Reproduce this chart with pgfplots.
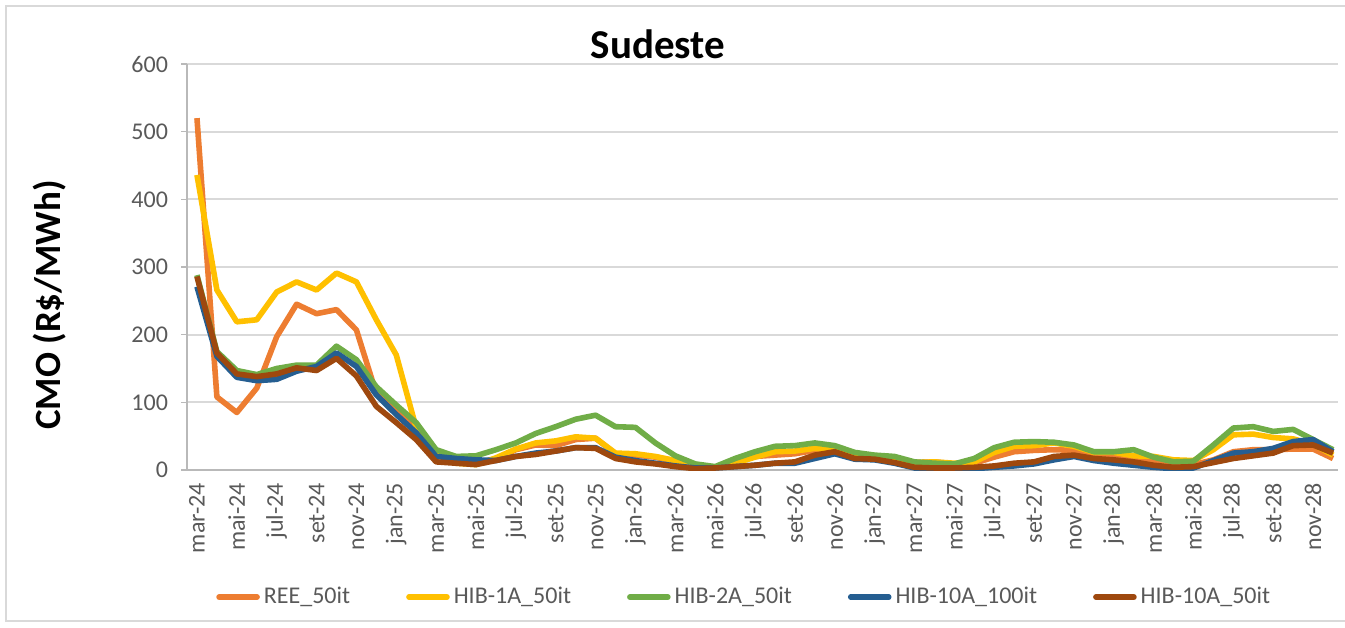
\documentclass[border=0pt]{standalone}
\usepackage{pgfplots}
\pgfplotsset{compat=1.18}
\usepackage{pgfplotstable}
\usepackage{fontspec}
\setmainfont{Carlito}

\definecolor{cree}{HTML}{ED7D31}
\definecolor{chiba}{HTML}{FFC000}
\definecolor{chibb}{HTML}{70AD47}
\definecolor{chibc}{HTML}{255E91}
\definecolor{chibd}{HTML}{9E480E}
\definecolor{txtgray}{HTML}{595959}
\definecolor{gridgray}{HTML}{D9D9D9}

% CMO Sudeste, monthly, mar-24 (0) to dez-28 (57)
\pgfplotstableread{
idx ree  hiba hibb hibc hibd
0   520  436  288  271  286
1   108  266  175  168  173
2   85   219  147  137  142
3   121  222  141  132  138
4   197  263  150  134  142
5   245  278  155  146  151
6   231  266  155  153  147
7   237  291  183  173  165
8   207  278  163  153  139
9   113  222  123  111  94
10  88   170  96   82   70
11  59   62   70   55   45
12  28   27   30   20   12
13  15   10   20   17   10
14  10   8    21   15   8
15  16   18   30   14   14
16  30   31   40   20   20
17  37   40   54   25   23
18  36   43   64   28   28
19  45   49   75   33   33
20  47   47   81   33   32
21  24   25   64   19   17
22  22   24   63   14   12
23  19   20   40   10   9
24  12   14   21   6    5
25  5    6    9    3    2
26  4    4    5    3    3
27  11   10   17   5    5
28  20   19   27   7    7
29  22   27   35   10   10
30  24   28   36   10   12
31  29   32   40   17   22
32  29   29   36   24   27
33  20   22   26   16   17
34  19   19   22   15   16
35  15   16   20   10   11
36  11   11   12   3    4
37  12   12   10   2    3
38  9    10   9    2    3
39  10   12   17   2    4
40  19   26   33   4    6
41  27   35   41   6    10
42  29   36   42   9    12
43  30   40   41   15   20
44  29   35   37   20   22
45  22   26   27   14   17
46  20   26   27   10   15
47  19   21   30   7    12
48  14   20   19   4    7
49  10   15   12   2    4
50  8    14   13   3    5
51  15   30   37   14   11
52  27   52   62   25   17
53  30   53   64   27   21
54  30   48   57   32   25
55  31   46   60   42   36
56  31   38   45   45   37
57  17   22   30   27   25
}\cmo

\begin{document}
\begin{tikzpicture}
\useasboundingbox (0,0) rectangle (672.5pt,313.5pt);
\draw[gridgray, line width=1pt] (672.5pt,310.5pt) -- (3pt,310.5pt) -- (3pt,3pt) -- (672.5pt,3pt);

\node[font=\fontsize{20.5}{24}\selectfont\bfseries] at (329pt,291.5pt) {Sudeste};
\node[font=\fontsize{18.5}{22}\selectfont\bfseries, rotate=90] at (25pt,161pt) {CMO (R\$/MWh)};

\begin{axis}[
    at={(93.5pt,78.5pt)}, anchor=south west,
    scale only axis, width=575.5pt, height=203pt,
    xmin=-0.5, xmax=57.25, ymin=0, ymax=600,
    ytick={0,100,...,600},
    xtick={0,2,...,56},
    xticklabels={mar-24,mai-24,jul-24,set-24,nov-24,jan-25,mar-25,mai-25,jul-25,set-25,nov-25,jan-26,mar-26,mai-26,jul-26,set-26,nov-26,jan-27,mar-27,mai-27,jul-27,set-27,nov-27,jan-28,mar-28,mai-28,jul-28,set-28,nov-28},
    x tick label style={rotate=90, anchor=east, font=\fontsize{12}{14}\selectfont, text=txtgray},
    y tick label style={font=\fontsize{12}{14}\selectfont, text=txtgray, xshift=-3pt},
    /pgf/number format/assume math mode=true,
    axis lines*=left,
    axis line style={draw=gray!55, line width=0.8pt},
    tick align=outside,
    major tick length=3pt,
    x tick style={draw=none},
    y tick style={draw=gray!55, line width=0.8pt},
    ymajorgrids, grid style={gridgray, line width=1pt},
    legend columns=5,
    legend style={at={(0.485,-0.313)}, anchor=center, draw=none, fill=none,
      font=\fontsize{12}{14}\selectfont, text=txtgray,
      /tikz/every even column/.append style={column sep=26pt}},
    legend image code/.code={\draw[#1, line cap=round] (0pt,0pt) -- (19pt,0pt);},
    every axis plot/.append style={line width=2.8pt, line join=round},
]
\addplot[cree, mark=none] table[x=idx, y=ree] {\cmo};
\addlegendentry{REE\_50it}
\addplot[chiba, mark=none] table[x=idx, y=hiba] {\cmo};
\addlegendentry{HIB-1A\_50it}
\addplot[chibb, mark=none] table[x=idx, y=hibb] {\cmo};
\addlegendentry{HIB-2A\_50it}
\addplot[chibc, mark=none] table[x=idx, y=hibc] {\cmo};
\addlegendentry{HIB-10A\_100it}
\addplot[chibd, mark=none] table[x=idx, y=hibd] {\cmo};
\addlegendentry{HIB-10A\_50it}
\end{axis}
\end{tikzpicture}
\end{document}
